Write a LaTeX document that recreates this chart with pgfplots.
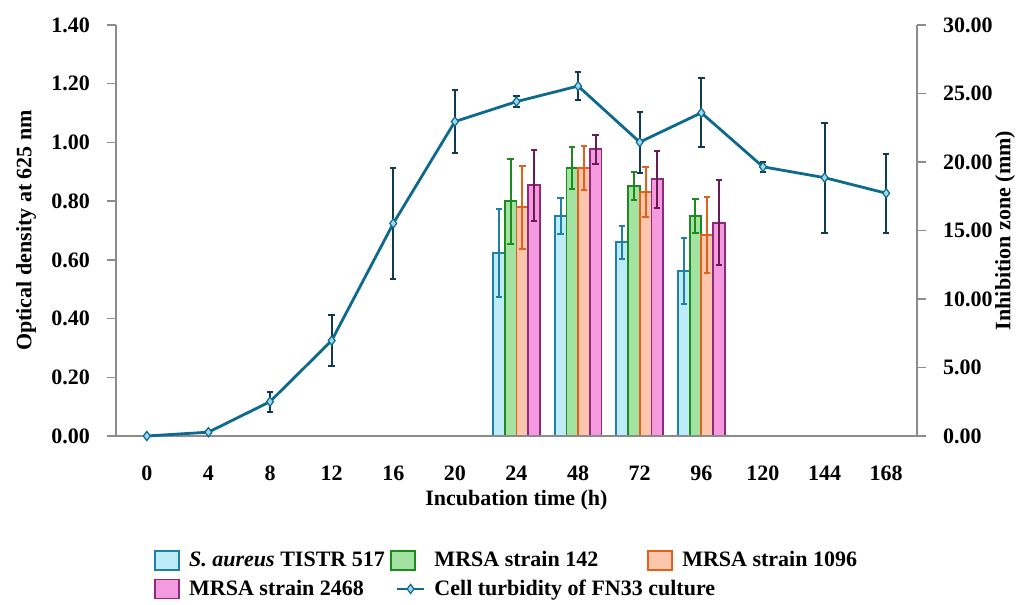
\documentclass[border=0pt]{standalone}
\usepackage{fontspec}
\setmainfont{Liberation Serif}
\usepackage{pgfplots}
\pgfplotsset{compat=1.18}
\usepackage{pgfplotstable}

\definecolor{axisgray}{HTML}{8C8C8C}
\definecolor{blueF}{HTML}{BDEBF8}
\definecolor{blueE}{HTML}{1F80A8}
\definecolor{greenF}{HTML}{A3E2A0}
\definecolor{greenE}{HTML}{1C8A1E}
\definecolor{orangeF}{HTML}{FCC6AC}
\definecolor{orangeE}{HTML}{E0601C}
\definecolor{pinkF}{HTML}{F59ADF}
\definecolor{pinkE}{HTML}{8E2A7E}
\definecolor{pinkErr}{HTML}{6A1B55}
\definecolor{lineC}{HTML}{0D6A8C}
\definecolor{markF}{HTML}{9ED8F0}
\definecolor{errN}{HTML}{103A50}

% x index (0..12 = 0,4,...,168 h); inhibition zone (mm) and SD
\pgfplotstableread{
x  a      ea    b      eb    c      ec    d      ed
0  0      0     0      0     0      0     0      0
1  0      0     0      0     0      0     0      0
2  0      0     0      0     0      0     0      0
3  0      0     0      0     0      0     0      0
4  0      0     0      0     0      0     0      0
5  0      0     0      0     0      0     0      0
6  13.38  3.20  17.13  3.08  16.69  3.04  18.30  2.58
7  16.08  1.31  19.58  1.54  19.58  1.60  20.93  1.06
8  14.14  1.20  18.23  1.03  17.81  1.84  18.74  2.08
9  12.04  2.42  16.08  1.25  14.65  2.76  15.57  3.08
10 0      0     0      0     0      0     0      0
11 0      0     0      0     0      0     0      0
12 0      0     0      0     0      0     0      0
}\bardata

% cell turbidity (OD 625 nm) and SD
\pgfplotstableread{
x  y      e
0  0.000  0.000
1  0.013  0.004
2  0.117  0.034
3  0.325  0.086
4  0.724  0.190
5  1.071  0.106
6  1.139  0.020
7  1.192  0.047
8  1.001  0.104
9  1.101  0.118
10 0.917  0.017
11 0.880  0.187
12 0.827  0.135
}\linedata

\newcommand{\lblfont}{\fontsize{11}{13}\selectfont\bfseries}

\pgfplotsset{
  common/.style={
    scale only axis, width=400.5pt, height=205.5pt,
    xmin=-0.5, xmax=12.5, clip=false,
    axis line style={draw=axisgray, line width=0.75pt},
    tick style={draw=axisgray, line width=0.75pt},
    tick align=outside, major tick length=4.5pt,
    ticklabel style={font=\lblfont},
    /pgf/number format/assume math mode=true,
    label style={font=\lblfont},
  },
  barleg/.style={legend image code/.code={\draw[##1] (0pt,-4.75pt) rectangle (12pt,4.75pt);}},
  lineleg/.style={legend image code/.code={\draw[mark repeat=2,mark phase=2,##1] plot coordinates {(3pt,0pt) (9.75pt,0pt) (16.5pt,0pt)};}},
  barA/.style={fill=blueF, draw=blueE, line width=0.9pt},
  barB/.style={fill=greenF, draw=greenE, line width=0.9pt},
  barC/.style={fill=orangeF, draw=orangeE, line width=0.9pt},
  barD/.style={fill=pinkF, draw=pinkE, line width=0.9pt},
  errs/.style={error bars/.cd, y dir=both, y explicit,
    error bar style={draw=#1, line width=1pt},
    error mark options={rotate=90, mark size=1.6pt, draw=#1, line width=1pt}},
}

\begin{document}
\begin{tikzpicture}
% bars: inhibition zone, right axis
\begin{axis}[common,
  axis x line=none, axis y line*=right,
  ymin=0, ymax=30, ytick={0,5,...,30},
  yticklabel style={xshift=5pt, /pgf/number format/.cd, fixed, fixed zerofill, precision=2},
  ylabel={Inhibition zone (mm)},
  ylabel style={at={(axis description cs:1,0.5)}, anchor=center, yshift=-44pt},
  ybar=0pt, bar width=0.19,
]
\addplot[barA, bar shift=-0.285, errs=blueE] table[x=x, y=a, y error=ea] {\bardata};
\addplot[barB, bar shift=-0.095, errs=greenE] table[x=x, y=b, y error=eb] {\bardata};
\addplot[barC, bar shift=0.095, errs=orangeE] table[x=x, y=c, y error=ec] {\bardata};
\addplot[barD, bar shift=0.285, errs=pinkErr] table[x=x, y=d, y error=ed] {\bardata};
\end{axis}
% line: optical density, left axis
\begin{axis}[common,
  axis x line*=bottom, axis y line*=left,
  ymin=0, ymax=1.4, ytick={0,0.2,...,1.4},
  yticklabel style={xshift=-5pt, /pgf/number format/.cd, fixed, fixed zerofill, precision=2},
  xtick={0,...,12}, xticklabels={0,4,8,12,16,20,24,48,72,96,120,144,168},
  x tick style={draw=none}, xticklabel style={yshift=-7pt},
  xlabel={Incubation time (h)},
  xlabel style={at={(axis description cs:0.5,0)}, anchor=center, yshift=-32pt},
  ylabel={Optical density at 625 nm},
  ylabel style={at={(axis description cs:0,0.5)}, anchor=center, yshift=45pt},
  legend columns=3, legend cell align=left,
  legend style={at={(axis description cs:0,0)}, anchor=north west,
    xshift=19pt, yshift=-55.5pt, draw=none, fill=none, font=\lblfont,
    inner sep=0pt, row sep=1pt, column sep=0pt,
    /tikz/every odd column/.append style={column sep=2.5pt},
    /tikz/every even column/.append style={column sep=5.5pt}},
]
\addlegendimage{barleg, barA}
\addlegendimage{barleg, barB}
\addlegendimage{barleg, barC}
\addlegendimage{barleg, barD}
\addplot[lineleg, color=lineC, line width=1.4pt, mark=diamond*, mark size=2.3pt,
  mark options={fill=markF, draw=lineC, line width=0.6pt},
  error bars/.cd, y dir=both, y explicit,
  error bar style={draw=errN, line width=1pt},
  error mark options={rotate=90, mark size=1.6pt, draw=errN, line width=1pt}]
  table[x=x, y=y, y error=e] {\linedata};
\legend{\makebox[93pt][l]{\textit{S. aureus} TISTR 517},
        \makebox[99pt][l]{MRSA strain 142},
        MRSA strain 1096,
        \makebox[93pt][l]{MRSA strain 2468},
        \makebox[99pt][l]{Cell turbidity of FN33 culture}}
\coordinate (O) at (rel axis cs:0,0);
\end{axis}
\path (O) ++(-58pt,-84.5pt) rectangle ++(512.5pt,302.5pt);
\end{tikzpicture}
\end{document}
